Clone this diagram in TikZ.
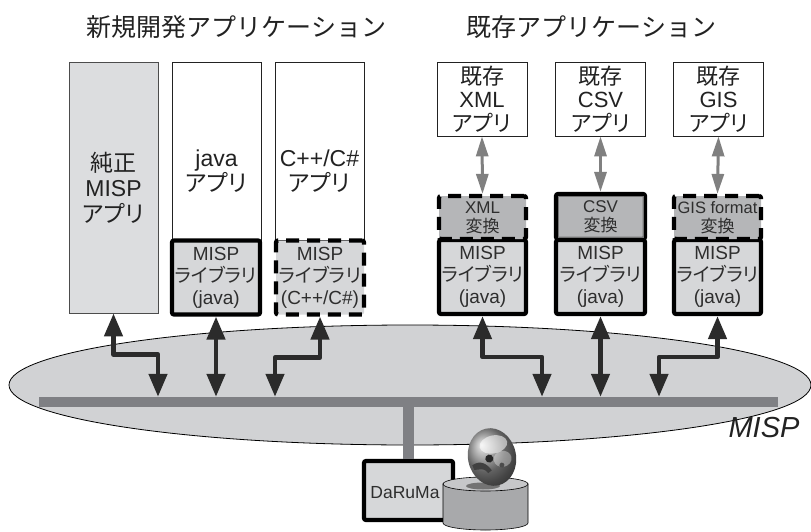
\documentclass[tikz,border=0pt]{standalone}
\usepackage{fontspec}
\setmainfont{Liberation Sans}
\newfontfamily\jp{Noto Sans CJK JP}
\newfontfamily\jpp[RawFeature=+palt]{Noto Sans CJK JP}
\usetikzlibrary{arrows.meta}

\definecolor{ink}{HTML}{222222}
\definecolor{boxink}{HTML}{2E2E2E}
\definecolor{arrowink}{HTML}{2B2B2B}
\definecolor{cloudfill}{HTML}{D1D2D4}
\definecolor{busgray}{HTML}{7F8084}
\definecolor{purefill}{HTML}{DCDDDF}
\definecolor{libfill}{HTML}{D6D7D9}
\definecolor{convfill}{HTML}{B5B6B8}
\definecolor{linkgray}{HTML}{808080}
\definecolor{cylside}{HTML}{A8A9AB}
\definecolor{cyltop}{HTML}{C6C7C9}

\newcommand\txtL{\fontsize{23}{25.5}\selectfont}
\newcommand\txtR{\fontsize{22}{23.5}\selectfont}
\newcommand\txtS{\fontsize{19}{22}\selectfont}
\newcommand\txtC{\fontsize{17}{19}\selectfont}

\begin{document}
\begin{tikzpicture}[x=1pt,y=-1pt,
  appbox/.style={draw=ink, line width=0.8pt, fill=white, minimum width=89pt, inner sep=0pt},
  purebox/.style={appbox, draw=black!70, fill=purefill, text=ink, font=\txtL, align=center},
  apptext/.style={text=ink, font=\txtL, align=center, inner sep=0pt},
  oldapp/.style={appbox, minimum width=90pt, minimum height=74pt, text=ink, font=\txtR, align=center},
  libbox/.style={draw=black, line width=4.2pt, rounded corners=2pt, fill=libfill, inner sep=0pt,
                 minimum width=88pt, minimum height=74pt, text=boxink, font=\txtS, align=center},
  dashlib/.style={libbox, dash pattern=on 13pt off 8pt},
  convbox/.style={draw=black, line width=4.2pt, rounded corners=2pt, fill=convfill, inner sep=0pt,
                  minimum width=88pt, minimum height=43pt, text=boxink, font=\txtC, align=center},
  dashconv/.style={convbox, dash pattern=on 13pt off 8pt},
  busarrow/.style={draw=arrowink, line width=4.5pt, line join=round,
                   {Triangle[width=18pt,length=23pt]}-{Triangle[width=18pt,length=23pt]}},
  linkarrow/.style={draw=linkgray, line width=3pt,
                    {Triangle[width=12pt,length=20pt]}-{Triangle[width=12pt,length=20pt]}},
  titletext/.style={text=ink, font=\jp\fontsize{25}{30}\selectfont, inner sep=0pt}
]
\useasboundingbox (0,0) rectangle (811,532);

% network cloud and bus
\filldraw[fill=cloudfill, draw=black, line width=0.8pt] (410,385) ellipse [x radius=401pt, y radius=60pt];
\node[fill=busgray, minimum width=739pt, minimum height=10pt, inner sep=0pt] (bus) at (408.5,402) {};

% section titles
\node[titletext] (titlenew) at (236.5,27) {新規開発アプリケーション};
\node[titletext] (titleold) at (591.5,27) {既存アプリケーション};

% newly developed applications
\node[purebox, minimum height=251pt] (pure) at (113.5,187.5) {{\jpp 純正}\\MISP\\{\jpp アプリ}};
\node[appbox, minimum height=178pt] (javaapp) at (216.5,151) {};
\node[apptext] (javatxt) at (216.5,171) {java\\{\jpp アプリ}};
\node[appbox, minimum height=178pt] (cppapp) at (319.5,151) {};
\node[apptext] (cpptxt) at (319.5,171) {C++/C\#\\{\jpp アプリ}};
\node[libbox] (javalib) at (216,277.5) {MISP\\{\jpp ライブラリ}\\(java)};
\node[dashlib] (cpplib) at (320,277.5) {MISP\\{\jpp ライブラリ}\\(C++/C\#)};

% existing applications
\node[oldapp] (xmlapp) at (482,99) {{\jpp 既存}\\XML\\{\jpp アプリ}};
\node[oldapp] (csvapp) at (600.5,99) {{\jpp 既存}\\CSV\\{\jpp アプリ}};
\node[oldapp] (gisapp) at (718.5,99) {{\jpp 既存}\\GIS\\{\jpp アプリ}};

\node[libbox, minimum width=87pt] (xmllib) at (482.5,277) {MISP\\{\jpp ライブラリ}\\(java)};
\node[libbox, minimum width=89pt] (csvlib) at (600.5,277) {MISP\\{\jpp ライブラリ}\\(java)};
\node[libbox, minimum width=87pt] (gislib) at (717.5,277) {MISP\\{\jpp ライブラリ}\\(java)};

\node[dashconv, minimum width=87pt] (xmlconv) at (482.5,217.5) {XML\\{\jpp 変換}};
\node[convbox, minimum width=89pt, minimum height=45pt] (csvconv) at (600.5,216.5) {CSV\\{\jpp 変換}};
\draw[black!55, line width=0.8pt] ([xshift=4pt,yshift=-4pt]csvconv.north west) rectangle ([xshift=-4pt,yshift=4pt]csvconv.south east);
\node[dashconv, minimum width=87pt] (gisconv) at (717.5,217.5) {{\fontsize{16.5}{19}\selectfont GIS format}\\{\jpp 変換}};

% links between existing applications and converters
\draw[linkarrow] (xmlapp.south) -- (xmlconv.north);
\draw[linkarrow] (csvapp.south) -- (csvconv.north);
\draw[linkarrow] (gisapp.south) -- (gisconv.north);

% connections to the bus
\draw[busarrow] (pure.south) -- ++(0,41) -| (158,0 |- bus.north);
\draw[busarrow] (javalib.south) -- (javalib.south |- bus.north);
\draw[busarrow] (cpplib.south) -- ++(0,41) -| (275,0 |- bus.north);
\draw[busarrow] (xmllib.south) -- ++(0,41) -| (542,0 |- bus.north);
\draw[busarrow] (csvlib.south) -- (csvlib.south |- bus.north);
\draw[busarrow] (gislib.south) -- ++(0,41) -| (659,0 |- bus.north);

% DaRuMa server
\node[draw=black, line width=4.2pt, rounded corners=2pt, fill=libfill, minimum width=89pt, minimum height=59pt,
      inner sep=0pt] (daruma) at (408.5,490.5) {};
\draw[busgray, line width=11pt] (bus.south -| daruma.north) -- (daruma.north);
\node[text=boxink, font=\fontsize{17.5}{20}\selectfont, inner sep=0pt] (darumatxt) at (405,493) {DaRuMa};

% storage cylinder
\filldraw[fill=cylside, draw=black, line width=0.6pt]
  (443,484) -- (443,523) arc[start angle=180, end angle=360, x radius=42.5pt, y radius=7pt] -- (528,484) -- cycle;
\filldraw[fill=cyltop, draw=black, line width=0.6pt] (485.5,484) ellipse [x radius=42.5pt, y radius=7pt];
\fill[black!55] (483,486) ellipse [x radius=17pt, y radius=3.5pt];

% daruma doll on the cylinder
\begin{scope}[shift={(492,457)}, rotate=12]
  \shade[ball color=black!45] (0,0) ellipse [x radius=24pt, y radius=29pt];
  \fill[white, opacity=0.55] (4,-12) ellipse [x radius=14pt, y radius=9pt];
  \fill[white, opacity=0.35] (10,4) ellipse [x radius=9pt, y radius=8pt];
  \fill[black!85] (-3,1) circle [radius=4pt];
  \fill[black!70] (8,10) circle [radius=2.5pt];
  \fill[black!75] (-21,4) .. controls (-12,0) and (-6,6) .. (-3,13) -- (-7,15) .. controls (-10,10) .. (-20,9) -- cycle;
\end{scope}

% network label
\node[text=ink, font=\itshape\fontsize{29}{30}\selectfont, inner sep=0pt] (misplabel) at (764,427.5) {MISP};
\end{tikzpicture}
\end{document}
